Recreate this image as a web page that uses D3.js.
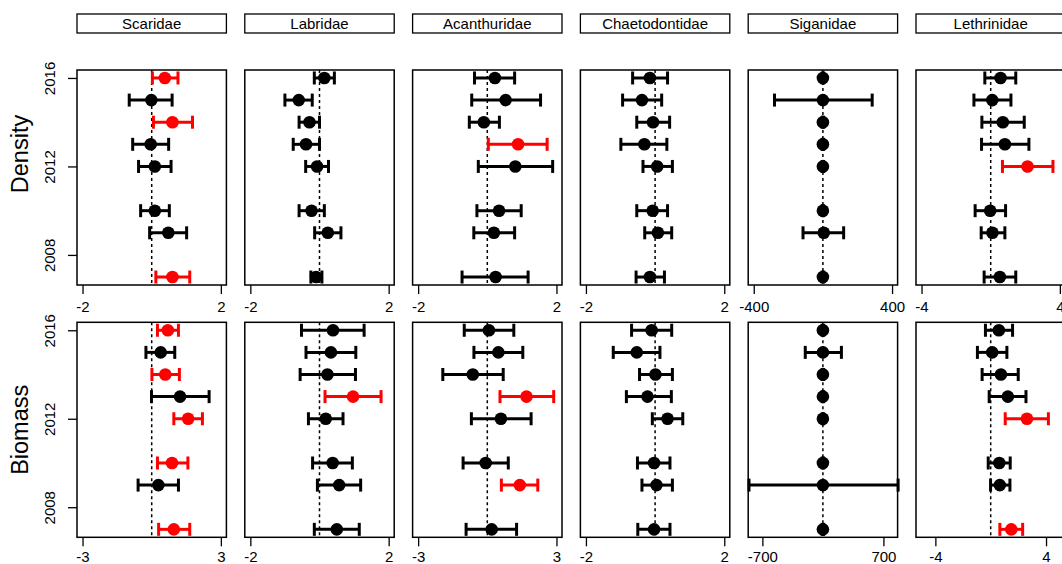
<!DOCTYPE html>
<html><head><meta charset="utf-8">
<script src="https://cdn.jsdelivr.net/npm/d3@7"></script>
<style>body{margin:0;background:#fff}svg{display:block}text{font-family:"Liberation Sans",Arial,sans-serif;fill:#000}</style>
</head><body><svg id="c" width="1062" height="564"></svg>
<script>
const families = ["Scaridae","Labridae","Acanthuridae","Chaetodontidae","Siganidae","Lethrinidae"];
const metrics = ["Density","Biomass"];
const years = [2016,2015,2014,2013,2012,2010,2009,2007];
const yTicks = [2008,2012,2016];
const yRange = [2007,2016];

// x limits and ticks per metric / family
const densityXlim = [2,2,2,2,400,4];
const biomassXlim = [3,2,3,2,800,5];
const densityTicks = [[-2,2],[-2,2],[-2,2],[-2,2],[-400,400],[-4,4]];
const biomassTicks = [[-3,3],[-2,2],[-3,3],[-2,2],[-700,700],[-4,4]];

// Density: estimate, lower, upper, highlighted
const densityEst = [
  [0.38,-0.01,0.60,-0.03,0.09,0.09,0.48,0.60],
  [0.14,-0.60,-0.29,-0.39,-0.07,-0.23,0.24,-0.10],
  [0.22,0.53,-0.10,0.89,0.81,0.34,0.19,0.24],
  [-0.15,-0.38,-0.06,-0.31,0.06,-0.07,0.08,-0.15],
  [0,0,0,0,0,0,5,0],
  [0.57,0.09,0.70,0.82,2.13,-0.03,0.10,0.53]];
const densityLo = [
  [0.02,-0.65,0.05,-0.55,-0.38,-0.32,-0.06,0.12],
  [-0.15,-1.00,-0.59,-0.76,-0.40,-0.59,-0.14,-0.25],
  [-0.37,-0.45,-0.52,0.03,-0.26,-0.30,-0.39,-0.73],
  [-0.65,-0.94,-0.53,-0.99,-0.35,-0.53,-0.30,-0.55],
  [-4,-280,-4,-4,-4,-4,-115,-4],
  [-0.34,-0.97,-0.51,-0.53,0.68,-0.90,-0.55,-0.38]];
const densityHi = [
  [0.76,0.59,1.18,0.49,0.56,0.51,1.01,1.10],
  [0.43,-0.21,0.00,0.00,0.26,0.14,0.62,0.07],
  [0.79,1.54,0.35,1.73,1.89,0.98,0.79,1.18],
  [0.36,0.19,0.42,0.34,0.50,0.36,0.48,0.27],
  [4,285,4,4,4,4,120,4],
  [1.45,1.17,1.94,2.21,3.60,0.86,0.82,1.45]];
const densitySig = [
  [1,0,1,0,0,0,0,1],
  [0,0,0,0,0,0,0,0],
  [0,0,0,1,0,0,0,0],
  [0,0,0,0,0,0,0,0],
  [0,0,0,0,0,0,0,0],
  [0,0,0,0,1,0,0,0]];

// Biomass
const biomassEst = [
  [0.70,0.39,0.59,1.23,1.58,0.88,0.29,0.96],
  [0.39,0.33,0.23,0.97,0.18,0.38,0.57,0.50],
  [0.07,0.48,-0.63,1.70,0.59,-0.07,1.41,0.19],
  [-0.10,-0.53,0.01,-0.22,0.36,-0.03,0.04,-0.03],
  [0,0,0,0,0,0,0,0],
  [0.59,0.11,0.74,1.24,2.62,0.62,0.66,1.49]];
const biomassLo = [
  [0.25,-0.25,0.01,-0.01,0.96,0.25,-0.59,0.30],
  [-0.52,-0.39,-0.56,0.16,-0.32,-0.20,-0.06,-0.15],
  [-1.00,-0.58,-1.93,0.55,-0.69,-1.05,0.61,-0.92],
  [-0.68,-1.21,-0.45,-0.83,-0.08,-0.51,-0.38,-0.50],
  [-8,-204,-8,-8,-8,-8,-855,-8],
  [-0.38,-0.96,-0.62,-0.11,1.05,-0.18,-0.01,0.66]];
const biomassHi = [
  [1.16,1.00,1.20,2.49,2.20,1.57,1.16,1.65],
  [1.29,1.05,1.04,1.78,0.68,0.95,1.19,1.15],
  [1.15,1.54,0.69,2.88,1.90,0.91,2.19,1.27],
  [0.48,0.14,0.50,0.47,0.80,0.43,0.50,0.43],
  [8,214,8,8,8,8,870,8],
  [1.58,1.17,1.99,2.55,4.17,1.41,1.39,2.31]];
const biomassSig = [
  [1,0,1,0,1,1,0,1],
  [0,0,0,1,0,0,0,0],
  [0,0,0,1,0,0,1,0],
  [0,0,0,0,0,0,0,0],
  [0,0,0,0,0,0,0,0],
  [0,0,0,0,1,0,0,1]];

const rowsData = [
  {est:densityEst, lo:densityLo, hi:densityHi, sig:densitySig, xlim:densityXlim, ticks:densityTicks},
  {est:biomassEst, lo:biomassLo, hi:biomassHi, sig:biomassSig, xlim:biomassXlim, ticks:biomassTicks}];

// layout
const colLeft = 77, colPitch = 167.8, panelW = 149.4;
const rowTops = [70, 322.3], panelH = 215;
const tickPads = [7, 4.6];
const FS = 15;
const fmt = d => String(d);

const svg = d3.select("#c");

// strips
families.forEach((f,i)=>{
  const x0 = colLeft + i*colPitch;
  svg.append("rect").attr("x",x0).attr("y",14).attr("width",panelW).attr("height",19)
    .attr("fill","#fff").attr("stroke","#000").attr("stroke-width",1.3);
  svg.append("text").attr("x",x0+panelW/2).attr("y",29.3).attr("text-anchor","middle")
    .attr("font-size",FS).text(f);
});

rowsData.forEach((R,r)=>{
  const top = rowTops[r];
  const pad = (yRange[1]-yRange[0])*0.04;
  const y = d3.scaleLinear().domain([yRange[1]+pad, yRange[0]-pad]).range([top, top+panelH]);

  // row label
  const labY = r===0 ? 154 : top+panelH/2;
  svg.append("text").attr("transform",`translate(28,${labY}) rotate(-90)`)
    .attr("text-anchor","middle").attr("font-size",23.5).text(metrics[r]);

  // y axis on first column
  const yAxis = d3.axisLeft(y).tickValues(yTicks).tickSize(9).tickFormat(fmt);
  const ga = svg.append("g").attr("transform",`translate(${colLeft},0)`).call(yAxis);
  ga.select(".domain").remove();
  ga.selectAll(".tick line").attr("stroke","#000").attr("stroke-width",1.3);
  ga.selectAll(".tick text").attr("font-size",FS).attr("x",null).attr("dy",null)
    .attr("text-anchor","middle").attr("transform","translate(-22.5,0) rotate(-90)");

  families.forEach((f,i)=>{
    const x0 = colLeft + i*colPitch;
    const L = R.xlim[i], ext = 2*L*0.04;
    const x = d3.scaleLinear().domain([-L-ext, L+ext]).range([x0, x0+panelW]);
    const g = svg.append("g");

    // x axis
    const xa = d3.axisBottom(x).tickValues(R.ticks[i]).tickSize(9).tickPadding(tickPads[r]).tickFormat(fmt);
    const gx = g.append("g").attr("transform",`translate(0,${top+panelH})`).call(xa);
    gx.select(".domain").remove();
    gx.selectAll(".tick line").attr("stroke","#000").attr("stroke-width",1.3);
    gx.selectAll(".tick text").attr("font-size",FS).attr("fill","#000");

    // zero line
    g.append("line").attr("x1",x(0)).attr("x2",x(0)).attr("y1",top).attr("y2",top+panelH)
      .attr("stroke","#000").attr("stroke-width",1.5).attr("stroke-dasharray","3,3");

    const pts = years.map((yr,k)=>({yr, e:R.est[i][k], lo:R.lo[i][k], hi:R.hi[i][k], s:R.sig[i][k]}));
    const col = d=> d.s ? "#ff0000" : "#000";
    const cap = 6.5;
    g.selectAll("line.bar").data(pts).join("line").attr("class","bar")
      .attr("x1",d=>x(d.lo)).attr("x2",d=>x(d.hi)).attr("y1",d=>y(d.yr)).attr("y2",d=>y(d.yr))
      .attr("stroke",col).attr("stroke-width",3);
    g.selectAll("line.capl").data(pts).join("line").attr("class","capl")
      .attr("x1",d=>x(d.lo)).attr("x2",d=>x(d.lo)).attr("y1",d=>y(d.yr)-cap).attr("y2",d=>y(d.yr)+cap)
      .attr("stroke",col).attr("stroke-width",3);
    g.selectAll("line.caph").data(pts).join("line").attr("class","caph")
      .attr("x1",d=>x(d.hi)).attr("x2",d=>x(d.hi)).attr("y1",d=>y(d.yr)-cap).attr("y2",d=>y(d.yr)+cap)
      .attr("stroke",col).attr("stroke-width",3);
    g.selectAll("circle").data(pts).join("circle")
      .attr("cx",d=>x(d.e)).attr("cy",d=>y(d.yr)).attr("r",6.3).attr("fill",col);

    // panel border
    g.append("rect").attr("x",x0).attr("y",top).attr("width",panelW).attr("height",panelH)
      .attr("fill","none").attr("stroke","#000").attr("stroke-width",1.5);
  });
});
</script></body></html>
